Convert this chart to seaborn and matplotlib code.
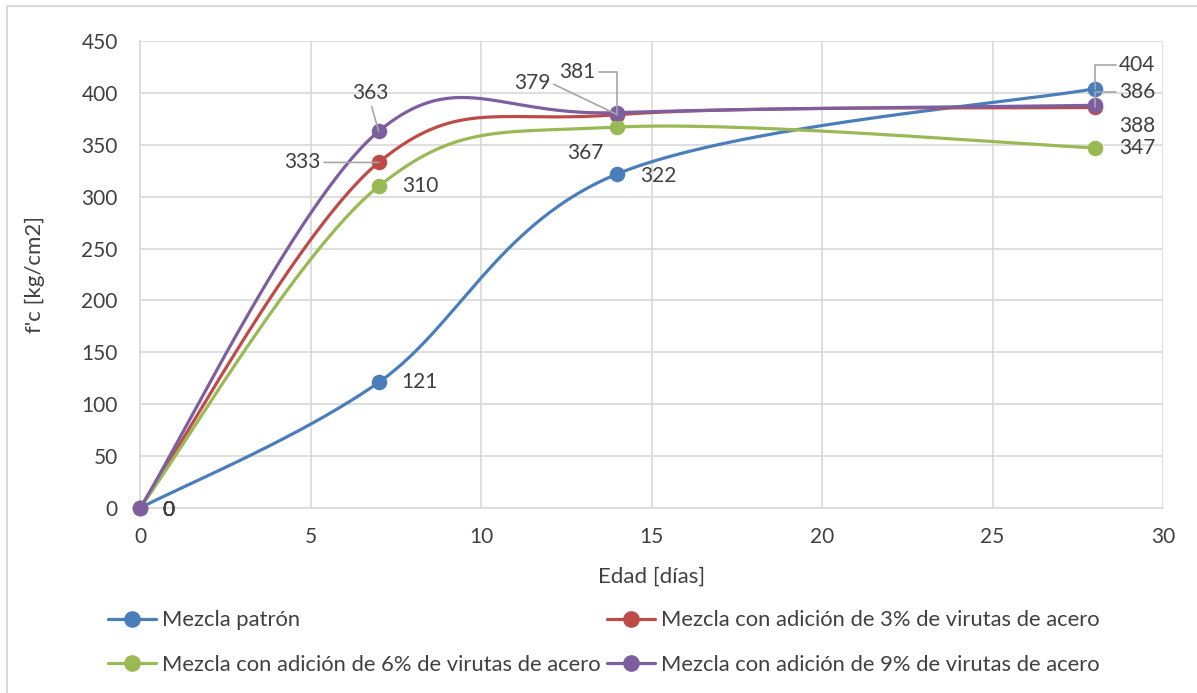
import numpy as np
import pandas as pd
import matplotlib
matplotlib.use("Agg")
import matplotlib.pyplot as plt
import seaborn as sns
from matplotlib.lines import Line2D

days = [0, 7, 14, 28]
patron = [0, 121, 322, 404]
adic3 = [0, 333, 379, 386]
adic6 = [0, 310, 367, 347]
adic9 = [0, 363, 381, 388]
series_names = ["Mezcla patrón",
                "Mezcla con adición de 3% de virutas de acero",
                "Mezcla con adición de 6% de virutas de acero",
                "Mezcla con adición de 9% de virutas de acero"]
colors = ["#4a7ebb", "#be4b48", "#98b954", "#7d5fa0"]
x_ticks = [0, 5, 10, 15, 20, 25, 30]
y_ticks = [0, 50, 100, 150, 200, 250, 300, 350, 400, 450]


def smooth(xs, ys, n=60):
    """Excel-like smoothed line: cubic Bezier with Catmull-Rom control points."""
    P = np.column_stack([xs, ys]).astype(float)
    out = []
    for i in range(len(P) - 1):
        p0 = P[i - 1] if i > 0 else P[i]
        p1, p2 = P[i], P[i + 1]
        p3 = P[i + 2] if i + 2 < len(P) else P[i + 1]
        c1 = p1 + (p2 - p0) / 6.0
        c2 = p2 - (p3 - p1) / 6.0
        t = np.linspace(0, 1, n)[:, None]
        seg = ((1 - t) ** 3) * p1 + 3 * ((1 - t) ** 2) * t * c1 + 3 * (1 - t) * t ** 2 * c2 + t ** 3 * p2
        out.append(seg if i == 0 else seg[1:])
    return np.vstack(out)


sns.set_theme(style="white")
plt.rcParams["font.family"] = ["Lato", "DejaVu Sans"]
text_color = "#404040"

fig = plt.figure(figsize=(11.97, 6.93), dpi=100)
ax = fig.add_axes([140 / 1197, 1 - 508 / 693, (1163 - 140) / 1197, (508 - 41) / 693])

all_series = [patron, adic3, adic6, adic9]
for name, vals, col in zip(series_names, all_series, colors):
    curve = smooth(days, vals)
    df = pd.DataFrame({"x": curve[:, 0], "y": curve[:, 1]})
    sns.lineplot(data=df, x="x", y="y", ax=ax, color=col, linewidth=2.3, sort=False,
                 estimator=None, zorder=3)
for name, vals, col in zip(series_names, all_series, colors):
    dfp = pd.DataFrame({"x": days, "y": vals})
    sns.scatterplot(data=dfp, x="x", y="y", ax=ax, color=col, s=125, edgecolor=col,
                    linewidth=0, zorder=4, clip_on=False)

ax.set_xlim(0, 30)
ax.set_ylim(0, 450)
ax.set_xticks(x_ticks)
ax.set_yticks(y_ticks)
ax.grid(True, color="#d9d9d9", linewidth=1.2)
ax.set_axisbelow(True)
for s in ["top", "right"]:
    ax.spines[s].set_visible(False)
for s in ["left", "bottom"]:
    ax.spines[s].set_color("#d9d9d9")
    ax.spines[s].set_linewidth(1.2)
ax.tick_params(axis="y", labelsize=15, colors=text_color, length=0, pad=16)
ax.tick_params(axis="x", labelsize=15, colors=text_color, length=0, pad=14)
ax.set_xlabel("Edad [días]", fontsize=16, color=text_color)
ax.set_ylabel("f'c [kg/cm2]", fontsize=16, color=text_color)
ax.xaxis.set_label_coords(0.5, -(577 - 508) / 467, transform=ax.transAxes)
ax.yaxis.set_label_coords(-(140 - 35) / 1023, 0.5, transform=ax.transAxes)
ax.xaxis.label.set_va("center")
ax.yaxis.label.set_va("center")

lab_kw = dict(fontsize=15, color=text_color, textcoords="offset pixels", annotation_clip=False)


def lbl(series, i, dx, dy, ha="left", va="center", relpos=None, conn=None):
    kw = dict(lab_kw)
    if relpos is not None:
        ap = dict(arrowstyle="-", color="#a6a6a6", lw=1.2, shrinkA=0, shrinkB=0, relpos=relpos)
        if conn:
            ap["connectionstyle"] = conn
        kw["arrowprops"] = ap
    ax.annotate(str(series[i]), (days[i], series[i]), xytext=(dx, dy), ha=ha, va=va, zorder=6, **kw)


# zeros at origin
for s in all_series:
    lbl(s, 0, 22, -2)
# patron
lbl(patron, 1, 23, 0)
lbl(patron, 2, 23, -2)
lbl(patron, 3, 24, 24, relpos=(0, 0.5), conn="angle,angleA=0,angleB=90,rad=0")
# 3%
lbl(adic3, 1, -58, 0, ha="right", relpos=(1, 0.5))
lbl(adic3, 2, -67, 32, ha="right", relpos=(1, 0.5))
lbl(adic3, 3, 24, 15, relpos=(0, 0.5), conn="angle,angleA=0,angleB=90,rad=0")
# 6%
lbl(adic6, 1, 23, 0)
lbl(adic6, 2, -14, -26, ha="right")
lbl(adic6, 3, 24, 0)
# 9%
lbl(adic9, 1, -8, 38, ha="center", relpos=(0.5, 0))
lbl(adic9, 2, -22, 41, ha="right", relpos=(1, 0.5), conn="angle,angleA=0,angleB=90,rad=0")
lbl(adic9, 3, 24, -21)

# legend
handles = [Line2D([0], [0], color=c, lw=2.3, marker="o", markersize=11) for c in colors]
order = [0, 2, 1, 3]
fig.legend([handles[i] for i in order], [series_names[i] for i in order],
           loc="lower left", bbox_to_anchor=(99 / 1197, 0.014), ncol=2, frameon=False,
           fontsize=15.8, labelcolor=text_color, handlelength=2.2, handletextpad=0.25,
           columnspacing=0.3, borderaxespad=0, labelspacing=1.1)

# chart-area border
fig.add_artist(Line2D([7 / 1197, 7 / 1197], [0, 1 - 6 / 693], transform=fig.transFigure,
                      color="#d9d9d9", lw=1.5))
fig.add_artist(Line2D([7 / 1197, 1], [1 - 6 / 693, 1 - 6 / 693], transform=fig.transFigure,
                      color="#d9d9d9", lw=1.5))

fig.savefig("out.png", dpi=100, facecolor="white")
